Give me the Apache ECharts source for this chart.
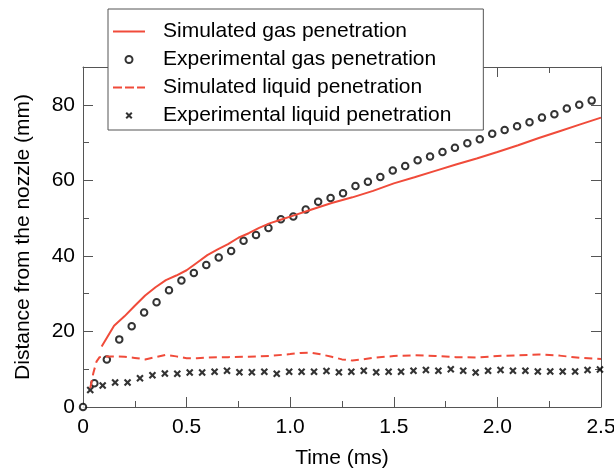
<!DOCTYPE html>
<html>
<head>
<meta charset="utf-8">
<script src="https://cdn.jsdelivr.net/npm/echarts@6/dist/echarts.min.js"></script>
<style>
  html, body { margin: 0; padding: 0; background: #fff; }
  #main { width: 614px; height: 470px; }
</style>
</head>
<body>
<div id="main"></div>
<script>
// simulated gas penetration (line)
var simGasT = [0.09, 0.15, 0.2, 0.25, 0.3, 0.35, 0.4, 0.45, 0.5, 0.55, 0.6, 0.65, 0.7, 0.75, 0.8, 0.85, 0.9, 0.95, 1.0,
  1.1, 1.2, 1.3, 1.4, 1.5, 1.6, 1.7, 1.8, 1.9, 2.0, 2.1, 2.2, 2.3, 2.4, 2.5]
var simGasY = [16.0, 21.5, 24.0, 26.8, 29.5, 31.7, 33.6, 34.8, 36.2, 38.2, 40.2, 41.7, 43.1, 44.8, 46.0, 47.4, 48.6, 49.5, 50.4,
  52.2, 54.0, 55.5, 57.2, 59.2, 60.8, 62.5, 64.2, 65.8, 67.5, 69.3, 71.2, 73.0, 74.8, 76.6]

// experimental gas penetration (circles)
var expGasT = [0, 0.055, 0.115, 0.175, 0.235, 0.295, 0.355, 0.415, 0.475, 0.535, 0.595, 0.655, 0.715, 0.775, 0.835,
  0.895, 0.955, 1.015, 1.075, 1.135, 1.195, 1.255, 1.315, 1.375, 1.435, 1.495, 1.555, 1.615, 1.675, 1.735, 1.795,
  1.855, 1.915, 1.975, 2.035, 2.095, 2.155, 2.215, 2.275, 2.335, 2.395, 2.455]
var expGasY = [0, 6.3, 12.6, 17.9, 21.4, 25.0, 27.7, 30.9, 33.5, 35.5, 37.6, 39.6, 41.3, 44.0, 45.5,
  47.4, 49.7, 50.4, 52.3, 54.3, 55.3, 56.6, 58.5, 59.6, 60.9, 62.6, 63.8, 65.3, 66.3, 67.5, 68.6,
  69.8, 70.9, 72.3, 73.3, 74.3, 75.4, 76.6, 77.5, 79.0, 80.0, 81.1]

// simulated liquid penetration (dashed)
var simLiqT = [0.035, 0.05, 0.065, 0.08, 0.1, 0.15, 0.2, 0.25, 0.3, 0.35, 0.4, 0.45, 0.5, 0.55, 0.6, 0.7, 0.8, 0.9, 1.0,
  1.05, 1.1, 1.15, 1.2, 1.25, 1.3, 1.35, 1.4, 1.5, 1.6, 1.7, 1.8, 1.9, 2.0, 2.1, 2.2, 2.3, 2.4, 2.5]
var simLiqY = [5.0, 9.0, 12.0, 13.2, 13.4, 13.4, 13.3, 13.0, 12.6, 13.2, 13.8, 13.4, 12.9, 12.9, 13.1, 13.2, 13.3, 13.5, 14.0,
  14.3, 14.4, 13.9, 13.3, 12.6, 12.3, 12.6, 13.0, 13.5, 13.7, 13.5, 13.2, 13.1, 13.5, 13.7, 13.9, 13.6, 13.0, 12.7]

// experimental liquid penetration (crosses)
var expLiqT = [0.035, 0.095, 0.155, 0.215, 0.275, 0.335, 0.395, 0.455, 0.515, 0.575, 0.635, 0.695, 0.755, 0.815,
  0.875, 0.935, 0.995, 1.055, 1.115, 1.175, 1.235, 1.295, 1.355, 1.415, 1.475, 1.535, 1.595, 1.655, 1.715, 1.775,
  1.835, 1.895, 1.955, 2.015, 2.075, 2.135, 2.195, 2.255, 2.315, 2.375, 2.435, 2.495]
var expLiqY = [4.5, 5.7, 6.5, 6.5, 7.6, 8.4, 8.9, 8.8, 9.1, 9.1, 9.3, 9.6, 9.2, 9.2,
  9.3, 8.8, 9.3, 9.3, 9.3, 9.5, 9.2, 9.3, 9.6, 9.2, 9.3, 9.3, 9.6, 9.8, 9.6, 10.0,
  9.6, 9.1, 9.6, 9.8, 9.6, 9.6, 9.4, 9.4, 9.4, 9.4, 9.8, 9.9]

var names = ['Simulated gas penetration', 'Experimental gas penetration',
  'Simulated liquid penetration', 'Experimental liquid penetration']

function zip(a, b) {
  return a.map(function (v, i) { return [v, b[i]] })
}

var red = '#f04b3a'
var axisCol = '#555'
var font = 'Liberation Sans'
var crossPath = 'path://M0,2L2,0L5,3L8,0L10,2L7,5L10,8L8,10L5,7L2,10L0,8L3,5Z'
// legend icons for the two lines (solid and dashed strokes)
var solidIcon = 'path://M0,0L32,0L32,2L0,2Z'
var dashIcon = 'path://M0,0h9v2h-9Z M12,0h9v2h-9Z M24,0h8v2h-8Z'

var myChart = echarts.init(document.getElementById('main'))

function xAx(pos, labels) {
  return {
    type: 'value', position: pos, min: 0, max: 2.5, interval: 0.5,
    axisLine: { show: true, onZero: false, lineStyle: { color: axisCol, width: 1 } },
    axisTick: { show: true, inside: true, length: 10, lineStyle: { color: axisCol } },
    minorTick: { show: true, splitNumber: 2, length: 6, lineStyle: { color: axisCol } },
    splitLine: { show: false },
    axisLabel: {
      show: labels, margin: 10, color: '#000', fontSize: 21, fontFamily: font,
      formatter: function (v) { return v === 0 ? '0' : v.toFixed(1) }
    },
    name: labels ? 'Time (ms)' : '',
    nameLocation: 'middle', nameGap: 41,
    nameTextStyle: { color: '#000', fontSize: 21, fontFamily: font }
  }
}

function yAx(pos, step, tickLen, line, labels) {
  return {
    type: 'value', position: pos, min: 0, max: 90, interval: step,
    axisLine: { show: line, onZero: false, lineStyle: { color: axisCol, width: 1 } },
    axisTick: { show: true, inside: true, length: tickLen, lineStyle: { color: axisCol } },
    splitLine: { show: false },
    axisLabel: {
      show: labels, margin: 8, color: '#000', fontSize: 21, fontFamily: font,
      formatter: function (v) { return (v % 20 === 0 && v <= 80) ? String(v) : '' }
    },
    name: labels ? 'Distance from the nozzle (mm)' : '',
    nameLocation: 'middle', nameGap: 49,
    nameTextStyle: { color: '#000', fontSize: 21, fontFamily: font }
  }
}

var option = {
  animation: false,
  backgroundColor: '#fff',
  grid: { left: 83, right: 13, top: 67, bottom: 63, containLabel: false, outerBoundsMode: 'none' },
  legend: {
    left: 108, top: 9, orient: 'vertical',
    data: [
      { name: names[0], icon: solidIcon },
      { name: names[1] },
      { name: names[2], icon: dashIcon },
      { name: names[3] }
    ],
    itemWidth: 32, itemHeight: 7, itemGap: 7,
    padding: [12, 32, 4, 5],
    backgroundColor: '#fff',
    borderColor: axisCol, borderWidth: 1,
    textStyle: { color: '#000', fontSize: 21, fontFamily: font, padding: [0, 0, 0, 13] }
  },
  xAxis: [xAx('bottom', true), xAx('top', false)],
  yAxis: [
    yAx('left', 10, 6, true, true),
    yAx('left', 20, 10, false, false),
    yAx('right', 10, 6, true, false),
    yAx('right', 20, 10, false, false)
  ],
  series: [
    {
      name: names[0], type: 'line', data: zip(simGasT, simGasY), symbol: 'none',
      lineStyle: { color: red, width: 2 }, itemStyle: { color: red }
    },
    {
      name: names[1], type: 'scatter', data: zip(expGasT, expGasY),
      symbol: 'emptyCircle', symbolSize: 6.5,
      itemStyle: { color: '#000', borderColor: '#000', borderWidth: 2.4 }
    },
    {
      name: names[2], type: 'line', data: zip(simLiqT, simLiqY), symbol: 'none',
      lineStyle: { color: red, width: 2, type: [8, 5] }, itemStyle: { color: red }
    },
    {
      name: names[3], type: 'scatter', data: zip(expLiqT, expLiqY),
      symbol: crossPath, symbolSize: 7.5,
      itemStyle: { color: '#000' }
    }
  ]
}

option && myChart.setOption(option)
</script>
</body>
</html>
